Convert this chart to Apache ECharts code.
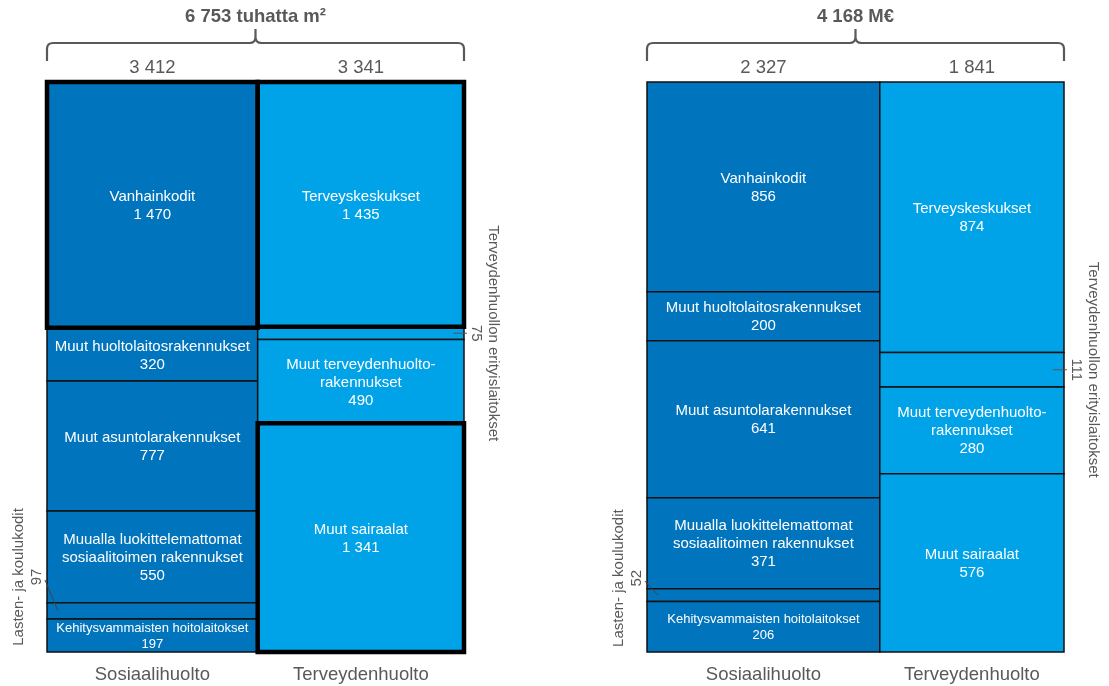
<!DOCTYPE html>
<html><head><meta charset="utf-8">
<script src="https://cdn.jsdelivr.net/npm/echarts@6/dist/echarts.min.js"></script>
<style>html,body{margin:0;padding:0;background:#fff}#c{width:1109px;height:686px}</style>
</head><body><div id="c"></div>
<script>
// ---- data ----
const categories = ['Sosiaalihuolto', 'Terveydenhuolto'];
const socialNames = ['Vanhainkodit', 'Muut huoltolaitosrakennukset', 'Muut asuntolarakennukset',
  'Muualla luokittelemattomat\nsosiaalitoimen rakennukset', 'Lasten- ja koulukodit', 'Kehitysvammaisten hoitolaitokset'];
const healthNames = ['Terveyskeskukset', 'Terveydenhuollon erityislaitokset', 'Muut terveydenhuolto-\nrakennukset', 'Muut sairaalat'];

const areaSocial = [1470, 320, 777, 550, 97, 197];
const areaHealth = [1435, 75, 490, 1341];
const areaColumnTotals = [3412, 3341];
const areaGrandTotal = '6 753 tuhatta m²';
const areaHighlighted = ['Vanhainkodit', 'Terveyskeskukset', 'Muut sairaalat'];

const costSocial = [856, 200, 641, 371, 52, 206];
const costHealth = [874, 111, 280, 576];
const costColumnTotals = [2327, 1841];
const costGrandTotal = '4 168 M€';

const outsideLabelNames = ['Lasten- ja koulukodit', 'Terveydenhuollon erityislaitokset'];

// ---- styling ----
const COLORS = ['#0074bd', '#00a3e8'];
const FONT = 'Liberation Sans, Arial, sans-serif';
const GREY = '#595959';
const smallFontNames = ['Kehitysvammaisten hoitolaitokset'];

function fmt(v) { return String(v).replace(/\B(?=(\d{3})+(?!\d))/g, ' '); }

function buildRects(colVals, colTotals) {
  const names = [socialNames, healthNames];
  const rects = [];
  let x0 = 0;
  colVals.forEach((vals, c) => {
    const w = colTotals[c];
    const sum = vals.reduce((a, b) => a + b, 0);
    let cum = 0;
    vals.forEach((v, i) => {
      const top = 1 - cum / sum; cum += v; const bot = 1 - cum / sum;
      rects.push({ value: [x0, x0 + w, top, bot], col: c, name: names[c][i], v: v });
    });
    x0 += w;
  });
  return rects;
}

function txt(t, size, fill, extra) {
  return Object.assign({ text: t, fill: fill, fontSize: size, fontFamily: FONT, align: 'center', verticalAlign: 'middle' }, extra || {});
}

function rectRenderer(rects, leftDy) {
  return function (params, api) {
    const r = rects[params.dataIndex];
    const p0 = api.coord([api.value(0), api.value(2)]);
    const p1 = api.coord([api.value(1), api.value(3)]);
    const x = p0[0], y = p0[1], w = p1[0] - p0[0], h = p1[1] - p0[1];
    const children = [{ type: 'rect', shape: { x, y, width: w, height: h },
      style: { fill: COLORS[r.col], stroke: '#111', lineWidth: 1.5 } }];
    if (outsideLabelNames.indexOf(r.name) < 0) {
      const small = smallFontNames.indexOf(r.name) >= 0;
      children.push({ type: 'text', z2: 10, style: txt(r.name + '\n' + fmt(r.v), small ? 13 : 15, '#fff',
        { x: x + w / 2, y: y + h / 2 + 1, lineHeight: small ? 16 : 18 }) });
    } else {
      const ym = y + h / 2;
      if (r.col === 1) {
        const xr = x + w;
        children.push({ type: 'line', z2: 20, shape: { x1: xr - 11, y1: ym, x2: xr + 3, y2: ym }, style: { stroke: '#555', lineWidth: 1 } });
        children.push({ type: 'text', x: xr + 12, y: ym, rotation: -Math.PI / 2, style: txt(fmt(r.v), 15, GREY, { x: 0, y: 0 }) });
        children.push({ type: 'text', x: xr + 29, y: ym, rotation: -Math.PI / 2, style: txt(r.name, 15, GREY, { x: 0, y: 0 }) });
      } else {
        children.push({ type: 'line', z2: 20, shape: { x1: x + 11, y1: ym, x2: x - 2, y2: ym + leftDy + 3 }, style: { stroke: '#444', lineWidth: 1 } });
        children.push({ type: 'text', x: x - 10, y: ym + leftDy, rotation: Math.PI / 2, style: txt(fmt(r.v), 15, GREY, { x: 0, y: 0 }) });
        children.push({ type: 'text', x: x - 28, y: ym + leftDy, rotation: Math.PI / 2, style: txt(r.name, 15, GREY, { x: 0, y: 0 }) });
      }
    }
    return { type: 'group', children };
  };
}

function outlineRenderer(rects) {
  return function (params, api) {
    const p0 = api.coord([api.value(0), api.value(2)]);
    const p1 = api.coord([api.value(1), api.value(3)]);
    return { type: 'rect', shape: { x: p0[0], y: p0[1], width: p1[0] - p0[0], height: p1[1] - p0[1] },
      style: { fill: null, stroke: '#000', lineWidth: 4.5 } };
  };
}

function decorRenderer(colTotals, grandLabel) {
  return function (params, api) {
    const total = colTotals[0] + colTotals[1];
    const tl = api.coord([0, 1]);
    const br = api.coord([total, 0]);
    const xL = tl[0], xR = br[0], top = tl[1], bottom = br[1];
    const xC = (xL + xR) / 2;
    const yH = top - 39, yB = top - 21, yT = top - 53, r = 6;
    const path = `M${xL} ${yB} L${xL} ${yH + r} Q${xL} ${yH} ${xL + r} ${yH} L${xC - r} ${yH} Q${xC} ${yH} ${xC} ${yH - r} L${xC} ${yT}` +
      ` M${xC} ${yH - r} Q${xC} ${yH} ${xC + r} ${yH} L${xR - r} ${yH} Q${xR} ${yH} ${xR} ${yH + r} L${xR} ${yB}`;
    const children = [
      { type: 'path', shape: { pathData: path }, style: { fill: null, stroke: GREY, lineWidth: 2.2 } },
      { type: 'text', style: txt(grandLabel, 18.5, GREY, { x: xC, y: top - 65, fontWeight: 'bold' }) }
    ];
    let x0 = 0;
    colTotals.forEach((t, c) => {
      const mid = api.coord([x0 + t / 2, 1])[0];
      children.push({ type: 'text', style: txt(fmt(t), 18.5, GREY, { x: mid, y: top - 14 }) });
      children.push({ type: 'text', style: txt(categories[c], 18.5, GREY, { x: mid, y: bottom + 23 }) });
      x0 += t;
    });
    return { type: 'group', children };
  };
}

const areaRects = buildRects([areaSocial, areaHealth], areaColumnTotals);
const costRects = buildRects([costSocial, costHealth], costColumnTotals);
const areaOutlines = areaRects.filter(r => areaHighlighted.indexOf(r.name) >= 0);

const chart = echarts.init(document.getElementById('c'));
chart.setOption({
  animation: false,
  backgroundColor: '#fff',
  grid: [
    { left: 47, top: 82, width: 417, height: 570 },
    { left: 647, top: 82, width: 417, height: 570 }
  ],
  xAxis: [
    { type: 'value', gridIndex: 0, min: 0, max: areaColumnTotals[0] + areaColumnTotals[1], show: false },
    { type: 'value', gridIndex: 1, min: 0, max: costColumnTotals[0] + costColumnTotals[1], show: false }
  ],
  yAxis: [
    { type: 'value', gridIndex: 0, min: 0, max: 1, show: false },
    { type: 'value', gridIndex: 1, min: 0, max: 1, show: false }
  ],
  series: [
    { type: 'custom', xAxisIndex: 0, yAxisIndex: 0, renderItem: rectRenderer(areaRects, -34), data: areaRects.map(r => r.value), z: 2 },
    { type: 'custom', xAxisIndex: 0, yAxisIndex: 0, renderItem: outlineRenderer(areaOutlines), data: areaOutlines.map(r => r.value), z: 3 },
    { type: 'custom', xAxisIndex: 0, yAxisIndex: 0, renderItem: decorRenderer(areaColumnTotals, areaGrandTotal), data: [[0, 1]], z: 4 },
    { type: 'custom', xAxisIndex: 1, yAxisIndex: 1, renderItem: rectRenderer(costRects, -17), data: costRects.map(r => r.value), z: 2 },
    { type: 'custom', xAxisIndex: 1, yAxisIndex: 1, renderItem: decorRenderer(costColumnTotals, costGrandTotal), data: [[0, 1]], z: 4 }
  ]
});
</script>
</body></html>
